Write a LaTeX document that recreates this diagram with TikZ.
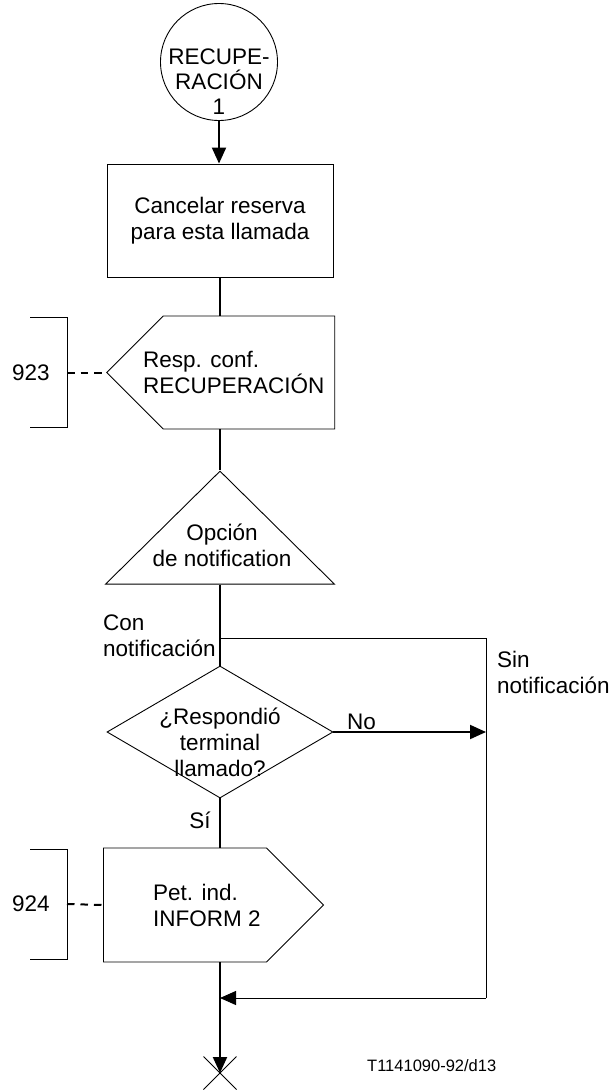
\documentclass[tikz,border=0pt]{standalone}
\usepackage{fontspec}
\setmainfont{Liberation Sans}
\usetikzlibrary{shapes.geometric,shapes.symbols,shapes.misc,arrows.meta}

\begin{document}
\begin{tikzpicture}[x=1pt,y=-1pt,
    every node/.style={font=\fontsize{22.5}{26}\selectfont, inner sep=0pt},
    outline/.style={draw, line width=0.9pt},
    flow/.style={line width=2pt},
    branch/.style={line width=1pt},
    tip/.style={-{Triangle[length=16pt,width=14pt]}},
    ref/.style={dash pattern=on 7.5pt off 6pt, line width=2pt}]
    \useasboundingbox (0,0) rectangle (613,1092);

    % main column
    \node[outline, circle, minimum size=117pt] (start) at (219,62) {};
    \node[align=center, font=\fontsize{22.5}{25}\selectfont] (starttxt) at (219,82) {RECUPE-\\RACIÓN\\1};
    \node[outline, minimum width=226pt, minimum height=113pt, align=center] (cancel) at (220,220.5) {Cancelar reserva\\para esta llamada};
    \node[outline, signal, signal to=west, minimum width=228pt, minimum height=113pt] (resp) at (249,372.5) {};
    \node[align=left, anchor=west] (resptxt) at (143,372.5) {Resp. conf.\\RECUPERACIÓN};
    \node[outline, isosceles triangle, isosceles triangle stretches, shape border rotate=90,
          minimum width=229pt, minimum height=113pt, anchor=apex] (opt) at (220,470) {};
    \node[align=center] (opttxt) at (222,545) {Opción\\de notification};
    \node[outline, diamond, minimum width=226pt, minimum height=132pt] (dec) at (220,732) {};
    \node[align=center] (dectxt) at (220,742) {¿Respondió\\terminal\\llamado?};
    \node[outline, signal, signal to=east, minimum width=220pt, minimum height=114pt] (inform) at (185,905) {};
    \node[align=left, anchor=west] (informtxt) at (153,905) {Pet. ind.\\INFORM 2};
    \node[cross out, draw, line width=1pt, minimum size=32pt] (stop) at (220,1073) {};

    % branch labels
    \node[align=left, anchor=west] (con) at (103,635.5) {Con\\notificación};
    \node[align=left, anchor=west] (sin) at (497,672) {Sin\\notificación};
    \node[anchor=west] (no) at (347,722) {No};
    \node (si) at (200,820) {Sí};
    \node[font=\fontsize{16.5}{20}\selectfont, anchor=west] (fig) at (367,1066) {T1141090-92/d13};

    \coordinate (fork) at (220,638);
    \coordinate (sintop) at (486,638);
    \coordinate (sinbot) at (486,998);
    \coordinate (join) at (220,998);

    \draw[flow, tip] (start.south) -- (start.south |- cancel.north);
    \draw[flow] (cancel.south) -- (cancel.south |- resp.north);
    \draw[flow] (cancel.south |- resp.south) -- (opt.apex);
    \draw[flow] (opt.lower side) -- (dec.north);
    \draw[flow, tip] (dec.east) -- (dec.east -| sintop);
    \draw[flow] (dec.south) -- (dec.south |- inform.north);
    \draw[flow, tip] (dec.south |- inform.south) -- (stop.center);
    \draw[branch] (fork) -- (sintop) -- (sinbot);
    \draw[branch, tip] (sinbot) -- (join);

    % references to other figures
    \foreach \num/\y/\shp in {923/372.5/resp, 924/904/inform}
    {
        \draw[branch] (30,\y-55) -- (67,\y-55) -- (67,\y+55) -- (30,\y+55);
        \node (n\num) at (31,\y) {\num};
        \draw[ref] (67,\y) -- (\shp.west);
    }
\end{tikzpicture}
\end{document}
